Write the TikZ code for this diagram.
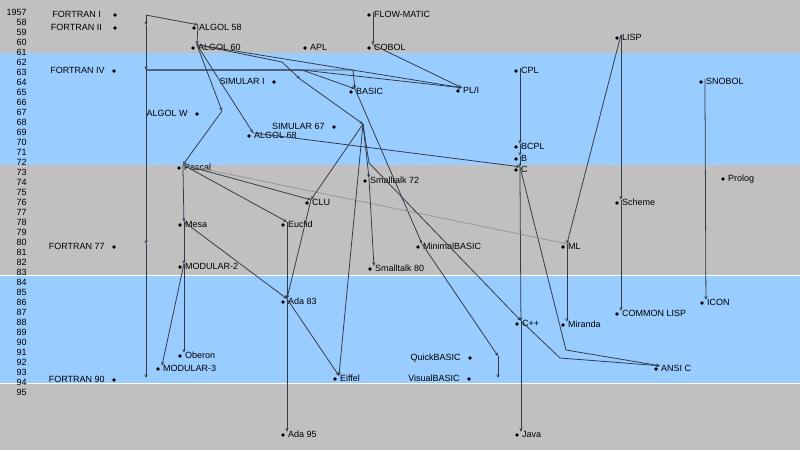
\documentclass[tikz,border=0pt]{standalone}
\usepackage{fontspec}
\setmainfont{Liberation Sans}
\usepackage{tikz}
\usetikzlibrary{arrows.meta}
\definecolor{bandgray}{RGB}{192, 192, 192}
\definecolor{bandblue}{RGB}{153, 204, 255}
\definecolor{edge}{RGB}{50, 58, 72}
\definecolor{faint}{RGB}{150, 150, 150}

\begin{document}
\begin{tikzpicture}[x=0.025cm, y=-0.025cm,
  every node/.style={font=\fontsize{6.4}{7}\selectfont},
  dot/.style={circle, fill=black, inner sep=0, minimum size=0.09cm},
  rname/.style={anchor=west, xshift=2.8pt, inner xsep=0.6pt, inner ysep=0, text height=4.2pt, text depth=0pt},
  lname/.style={anchor=east, xshift=-6.4pt, inner sep=0, text height=4.2pt, text depth=0pt},
  year/.style={anchor=east, inner sep=0},
  link/.style={draw=edge, line width=0.55, -{Stealth[length=2.6pt, width=2.2pt]}}]

  \useasboundingbox (0, 0) rectangle (800, 450);

  % bands of years
  \fill[bandgray] (0, 0) rectangle (800, 53);
  \fill[bandblue] (0, 53) rectangle (800, 165);
  \fill[bandgray] (0, 165) rectangle (800, 275);
  \fill[bandblue] (0, 275) rectangle (800, 383);
  \fill[bandgray] (0, 383) rectangle (800, 450);
  \draw[white, line width=0.6] (0, 275) -- (800, 275);
  \draw[white, line width=0.6] (0, 383) -- (800, 383);

  \node[year] (y1957) at (27, 12) {1957};
  \foreach \yr in {58,...,95} {
    \node[year] (y\yr) at (27, {12 + 10*(\yr - 57)}) {\yr};
  }

  % names written left of the dot
  \node[dot] (fortI) at (115, 15) {};
  \node[lname, xshift=-3.5pt] (fortI-t) at (fortI) {FORTRAN I};
  \coordinate (fortI-a) at (146, 15);
  \node[dot] (fortII) at (115, 28) {};
  \node[lname, xshift=-2.8pt] (fortII-t) at (fortII) {FORTRAN II};
  \coordinate (fortII-a) at (146, 25);
  \node[dot] (fortIV) at (114, 71) {};
  \node[lname] (fortIV-t) at (fortIV) {FORTRAN IV};
  \coordinate (fortIV-a) at (146, 70);
  \node[dot] (fort77) at (114, 247) {};
  \node[lname] (fort77-t) at (fort77) {FORTRAN 77};
  \coordinate (fort77-a) at (146, 244);
  \node[dot] (fort90) at (114, 380) {};
  \node[lname] (fort90-t) at (fort90) {FORTRAN 90};
  \coordinate (fort90-a) at (146, 378);
  \node[dot] (algolw) at (197, 114) {};
  \node[lname] (algolw-t) at (algolw) {ALGOL W};
  \coordinate (algolw-a) at (222, 111);
  \node[dot] (simula1) at (274, 82) {};
  \node[lname] (simula1-t) at (simula1) {SIMULAR I};
  \coordinate (simula1-a) at (300, 79);
  \node[dot] (simula67) at (334, 127) {};
  \node[lname] (simula67-t) at (simula67) {SIMULAR 67};
  \coordinate (simula67-a) at (363, 124);
  \node[dot] (quickbasic) at (470, 358) {};
  \node[lname] (quickbasic-t) at (quickbasic) {QuickBASIC};
  \coordinate (quickbasic-a) at (498, 356);
  \node[dot] (visualbasic) at (469, 379) {};
  \node[lname] (visualbasic-t) at (visualbasic) {VisualBASIC};
  \coordinate (visualbasic-a) at (498, 378);

  % names written right of the dot
  \node[dot] (algol58) at (194, 28) {};
  \node[rname] (algol58-t) at (algol58) {ALGOL 58};
  \node[dot] (algol60) at (193, 48) {};
  \node[rname] (algol60-t) at (algol60) {ALGOL 60};
  \node[dot] (apl) at (305, 48) {};
  \node[rname] (apl-t) at (apl) {APL};
  \node[dot] (flowmatic) at (369, 15) {};
  \node[rname] (flowmatic-t) at (flowmatic) {FLOW-MATIC};
  \node[dot] (cobol) at (369, 48) {};
  \node[rname] (cobol-t) at (cobol) {COBOL};
  \node[dot] (lisp) at (617, 38) {};
  \node[rname] (lisp-t) at (lisp) {LISP};
  \node[dot] (cpl) at (516, 71) {};
  \node[rname] (cpl-t) at (cpl) {CPL};
  \node[dot] (basic) at (351, 92) {};
  \node[rname] (basic-t) at (basic) {BASIC};
  \node[dot] (pl1) at (458, 91) {};
  \node[rname] (pl1-t) at (pl1) {PL/I};
  \node[dot] (snobol) at (701, 82) {};
  \node[rname] (snobol-t) at (snobol) {SNOBOL};
  \node[dot] (algol68) at (249, 136) {};
  \node[rname] (algol68-t) at (algol68) {ALGOL 68};
  \node[dot] (bcpl) at (516, 147) {};
  \node[rname] (bcpl-t) at (bcpl) {BCPL};
  \node[dot] (b) at (516, 159) {};
  \node[rname] (b-t) at (b) {B};
  \node[dot] (c) at (516, 170) {};
  \node[rname] (c-t) at (c) {C};
  \node[dot] (pascal) at (179, 168) {};
  \node[rname] (pascal-t) at (pascal) {Pascal};
  \node[dot] (prolog) at (723, 179) {};
  \node[rname] (prolog-t) at (prolog) {Prolog};
  \node[dot] (smalltalk72) at (365, 181) {};
  \node[rname] (smalltalk72-t) at (smalltalk72) {Smalltalk 72};
  \node[dot] (clu) at (307, 203) {};
  \node[rname] (clu-t) at (clu) {CLU};
  \node[dot] (scheme) at (617, 203) {};
  \node[rname] (scheme-t) at (scheme) {Scheme};
  \node[dot] (mesa) at (180, 225) {};
  \node[rname] (mesa-t) at (mesa) {Mesa};
  \node[dot] (euclid) at (283, 225) {};
  \node[rname] (euclid-t) at (euclid) {Euclid};
  \node[dot] (minimalbasic) at (418, 247) {};
  \node[rname] (minimalbasic-t) at (minimalbasic) {MinimalBASIC};
  \node[dot] (ml) at (563, 247) {};
  \node[rname] (ml-t) at (ml) {ML};
  \node[dot] (modula2) at (180, 267) {};
  \node[rname] (modula2-t) at (modula2) {MODULAR-2};
  \node[dot] (smalltalk80) at (370, 269) {};
  \node[rname] (smalltalk80-t) at (smalltalk80) {Smalltalk 80};
  \node[dot] (ada83) at (283, 302) {};
  \node[rname] (ada83-t) at (ada83) {Ada 83};
  \node[dot] (icon) at (702, 303) {};
  \node[rname] (icon-t) at (icon) {ICON};
  \node[dot] (commonlisp) at (617, 314) {};
  \node[rname] (commonlisp-t) at (commonlisp) {COMMON LISP};
  \node[dot] (cpp) at (517, 324) {};
  \node[rname] (cpp-t) at (cpp) {C++};
  \node[dot] (miranda) at (563, 325) {};
  \node[rname] (miranda-t) at (miranda) {Miranda};
  \node[dot] (oberon) at (180, 356) {};
  \node[rname] (oberon-t) at (oberon) {Oberon};
  \node[dot] (modula3) at (158, 369) {};
  \node[rname] (modula3-t) at (modula3) {MODULAR-3};
  \node[dot] (ansic) at (656, 369) {};
  \node[rname] (ansic-t) at (ansic) {ANSI C};
  \node[dot] (eiffel) at (335, 379) {};
  \node[rname] (eiffel-t) at (eiffel) {Eiffel};
  \node[dot] (ada95) at (283, 435) {};
  \node[rname] (ada95-t) at (ada95) {Ada 95};
  \node[dot] (java) at (517, 435) {};
  \node[rname] (java-t) at (java) {Java};

  % bends
  \coordinate (k1) at (282, 62);
  \coordinate (k2) at (302, 70);
  \coordinate (k3) at (353, 70);
  \coordinate (k4) at (369, 163);
  \coordinate (k5) at (566, 350);
  \coordinate (k6) at (560, 358);

  % FORTRAN line
  \draw[link] (fortI-a) -- (fortII-a);
  \draw[link] (fortII-a) -- (fortIV-a);
  \draw[link] (fortIV-a) -- (fort77-a);
  \draw[link] (fort77-a) -- (fort90-a);
  \draw[link] (fortI-a) -- (algol58-t.north west);
  \draw[link] (fortIV-a) -- (k2) -- (pl1-t.north west);
  \draw[link] (fortIV-a) -- (k2) -- (basic-t.north west);
  \draw[link] (fortIV-a) -- (k3) -- (basic-t.north west);

  % ALGOL line
  \draw[link] (algol58-t.north west) -- (algol60-t.north west);
  \draw[link] (algol60-t.north west) -- (pl1-t.north west);
  \draw[link] (algol60-t.north west) -- (k1) -- (simula1-a);
  \draw[link] (algol60-t.north west) -- (algolw-a);
  \draw[link] (algol60-t.north west) -- (algol68-t.north west);
  \draw[link] (simula1-a) -- (simula67-a);
  \draw[link] (flowmatic-t.north west) -- (cobol-t.north west);
  \draw[link] (cobol-t.north west) -- (pl1-t.north west);

  % BASIC
  \draw[link] (basic-t.north west) -- (minimalbasic-t.north west);
  \draw[link] (minimalbasic-t.north west) -- (quickbasic-a);
  \draw[link] (quickbasic-a) -- (visualbasic-a);

  % C
  \draw[link] (cpl-t.north west) -- (bcpl-t.north west);
  \draw[link] (bcpl-t.north west) -- (b-t.north west);
  \draw[link] (b-t.north west) -- (c-t.north west);
  \draw[link] (algol68-t.north west) -- (c-t.north west);
  \draw[link] (c-t.north west) -- (cpp-t.north west);
  \draw[link] (cpp-t.north west) -- (java-t.north west);
  \draw[link] (c-t.north west) -- (k5) -- (ansic-t.north west);
  \draw[link] (cpp-t.north west) -- (k6) -- (ansic-t.north west);

  % Pascal
  \draw[link] (algolw-a) -- (pascal-t.north west);
  \draw[link] (pascal-t.north west) -- (mesa-t.north west);
  \draw[link] (mesa-t.north west) -- (modula2-t.north west);
  \draw[link] (modula2-t.north west) -- (oberon-t.north west);
  \draw[link] (modula2-t.north west) -- (modula3-t.north west);
  \draw[link] (pascal-t.north west) -- (clu-t.north west);
  \draw[link] (pascal-t.north west) -- (euclid-t.north west);
  \draw[link, draw=faint] (pascal-t.north west) -- (ml-t.north west);
  \draw[link] (mesa-t.north west) -- (ada83-t.north west);
  \draw[link] (euclid-t.north west) -- (ada83-t.north west);
  \draw[link] (clu-t.north west) -- (ada83-t.north west);
  \draw[link] (ada83-t.north west) -- (ada95-t.north west);
  \draw[link] (ada83-t.north west) -- (eiffel-t.north west);

  % SIMULA
  \draw[link] (simula67-a) -- (clu-t.north west);
  \draw[link] (simula67-a) -- (eiffel-t.north west);
  \draw[link] (simula67-a) -- (smalltalk72-t.north west);
  \draw[link] (smalltalk72-t.north west) -- (smalltalk80-t.north west);
  \draw[link] (simula67-a) -- (k4) -- (cpp-t.north west);

  % LISP and SNOBOL
  \draw[link] (lisp-t.north west) -- (scheme-t.north west);
  \draw[link] (scheme-t.north west) -- (commonlisp-t.north west);
  \draw[link] (lisp-t.north west) -- (ml-t.north west);
  \draw[link] (ml-t.north west) -- (miranda-t.north west);
  \draw[link] (snobol-t.north west) -- (icon-t.north west);

\end{tikzpicture}
\end{document}
